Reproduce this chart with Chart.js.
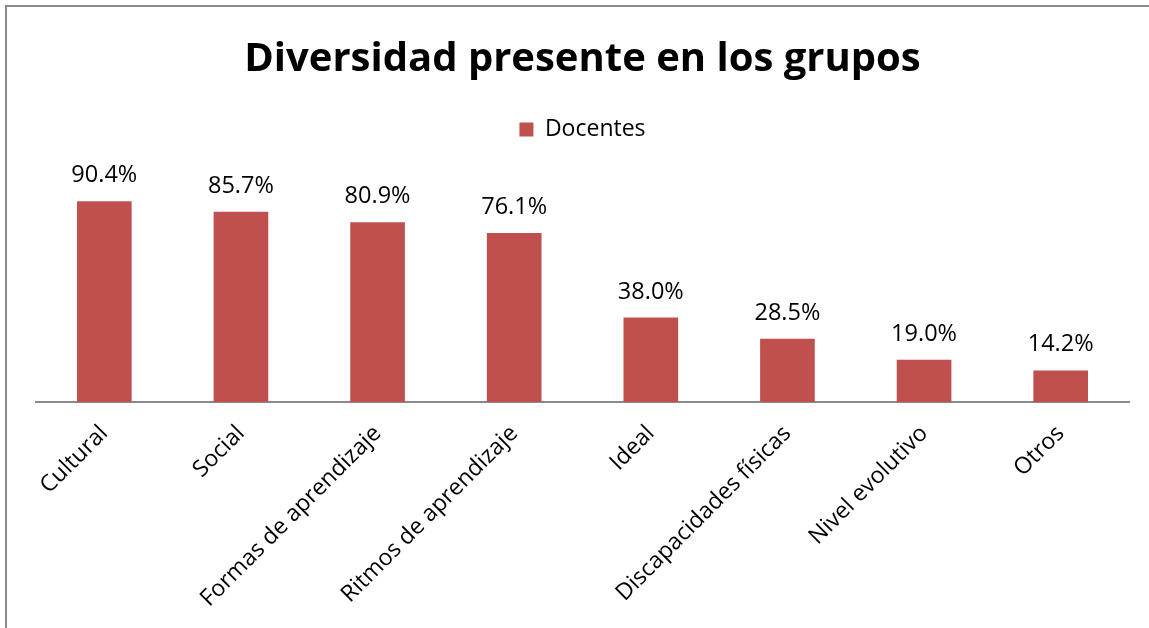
<!DOCTYPE html>
<html>
<head>
<meta charset="utf-8">
<script src="https://cdn.jsdelivr.net/npm/chart.js@4.4.1/dist/chart.umd.min.js"></script>
<style>
  html, body { margin: 0; padding: 0; background: #fff; overflow: hidden; }
  #frame {
    position: absolute; left: 5px; top: 5px; width: 1200px; height: 700px;
    border-left: 2px solid #8a8a8a; border-top: 2px solid #8a8a8a;
  }
  #wrap { position: absolute; left: 0; top: 0; width: 1149px; height: 628px; }
</style>
</head>
<body>
<div id="frame"></div>
<div id="wrap"><canvas id="chart" width="1149" height="628"></canvas></div>
<script>
// Chart data
const categories = ['Cultural', 'Social', 'Formas de aprendizaje', 'Ritmos de aprendizaje',
    'Ideal', 'Discapacidades físicas', 'Nivel evolutivo', 'Otros'];
const docentes = [90.4, 85.7, 80.9, 76.1, 38.0, 28.5, 19.0, 14.2];
const seriesName = 'Docentes';
const chartTitle = 'Diversidad presente en los grupos';

const barColor = '#C0504D';
const fontFamily = '"Open Sans", "Noto Sans", sans-serif';

// Percent labels above each bar
const valueLabels = {
    id: 'valueLabels',
    afterDatasetsDraw(chart) {
        const ctx = chart.ctx;
        const meta = chart.getDatasetMeta(0);
        ctx.save();
        ctx.font = '23.5px ' + fontFamily;
        ctx.fillStyle = '#000';
        ctx.textAlign = 'center';
        ctx.textBaseline = 'alphabetic';
        meta.data.forEach((bar, i) => {
            ctx.fillText(docentes[i].toFixed(1) + '%', bar.x, bar.y - 19);
        });
        ctx.restore();
    }
};

new Chart(document.getElementById('chart'), {
    type: 'bar',
    data: {
        labels: categories,
        datasets: [{
            label: seriesName,
            data: docentes,
            backgroundColor: barColor,
            borderWidth: 0,
            categoryPercentage: 1,
            barPercentage: 0.4
        }]
    },
    options: {
        responsive: false,
        animation: false,
        layout: {
            padding: { left: 36, right: 20, top: 0, bottom: 0 }
        },
        plugins: {
            title: {
                display: true,
                text: chartTitle,
                color: '#000',
                font: { family: fontFamily, size: 40, weight: 'bold' },
                padding: { top: 36, bottom: 24 }
            },
            legend: {
                display: true,
                labels: {
                    color: '#000',
                    font: { family: fontFamily, size: 23 },
                    boxWidth: 14,
                    boxHeight: 14,
                    padding: 10
                }
            },
            tooltip: { enabled: false }
        },
        scales: {
            x: {
                grid: { display: false },
                border: { display: true, color: '#8a8a8a', width: 2 },
                ticks: {
                    color: '#000',
                    font: { family: fontFamily, size: 23 },
                    minRotation: 45,
                    maxRotation: 45,
                    autoSkip: false,
                    padding: 10
                },
                afterFit(scale) { scale.height = 226; }
            },
            y: {
                display: false,
                min: 0,
                max: 113
            }
        }
    },
    plugins: [valueLabels]
});
</script>
</body>
</html>
